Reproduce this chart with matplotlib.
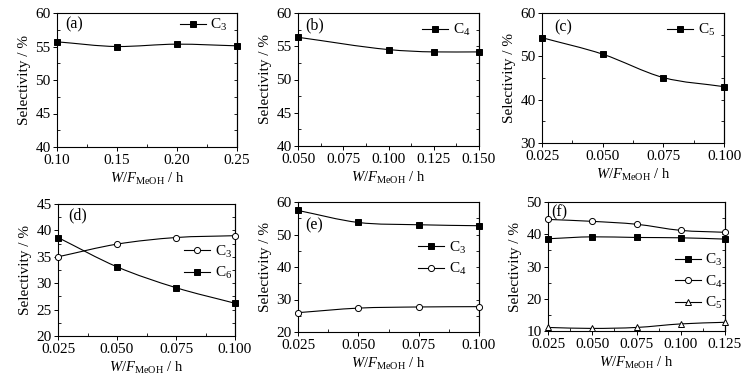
import numpy as np
import matplotlib
matplotlib.use("Agg")
import matplotlib.pyplot as plt
from matplotlib.path import Path
from matplotlib.patches import PathPatch
from matplotlib.lines import Line2D
from matplotlib.ticker import MultipleLocator

plt.rcParams['font.family'] = ['Liberation Serif', 'DejaVu Serif']
plt.rcParams['mathtext.fontset'] = 'custom'
plt.rcParams['mathtext.rm'] = 'Liberation Serif'
plt.rcParams['mathtext.it'] = 'Liberation Serif:italic'

# ---- data ----
x_a = [0.10, 0.15, 0.20, 0.25]
c3_a = [55.7, 55.0, 55.35, 55.1]

x_b = [0.050, 0.100, 0.125, 0.150]
c4_b = [56.35, 54.5, 54.15, 54.15]

x_c = [0.025, 0.050, 0.075, 0.100]
c5_c = [54.3, 50.5, 45.1, 43.0]

x_d = [0.025, 0.050, 0.075, 0.100]
c3_d = [35.0, 37.4, 38.65, 39.0]
c6_d = [38.65, 33.1, 29.15, 26.2]

x_e = [0.025, 0.050, 0.075, 0.100]
c3_e = [57.4, 53.7, 53.0, 52.7]
c4_e = [25.95, 27.35, 27.7, 27.8]

x_f = [0.025, 0.050, 0.075, 0.100, 0.125]
c3_f = [38.6, 39.2, 39.0, 38.9, 38.5]
c4_f = [44.6, 44.0, 43.1, 41.2, 40.6]
c5_f = [11.1, 10.8, 11.1, 12.2, 12.7]

W, H = 752, 381
fig = plt.figure(figsize=(W / 100, H / 100), dpi=100)


def px_axes(l, t, r, b):
    return fig.add_axes([l / W, 1 - b / H, (r - l) / W, (b - t) / H])


def smooth(ax, x, y):
    x = np.asarray(x, float)
    y = np.asarray(y, float)
    n = len(x)
    m = np.zeros(n)
    for i in range(n):
        if i == 0:
            m[i] = (y[1] - y[0]) / (x[1] - x[0])
        elif i == n - 1:
            m[i] = (y[-1] - y[-2]) / (x[-1] - x[-2])
        else:
            d1 = (y[i] - y[i - 1]) / (x[i] - x[i - 1])
            d2 = (y[i + 1] - y[i]) / (x[i + 1] - x[i])
            m[i] = 0.5 * (d1 + d2) if d1 * d2 > 0 else 0.25 * (d1 + d2)
    verts = [(x[0], y[0])]
    codes = [Path.MOVETO]
    for i in range(n - 1):
        h = x[i + 1] - x[i]
        verts += [(x[i] + h / 3, y[i] + m[i] * h / 3),
                  (x[i + 1] - h / 3, y[i + 1] - m[i + 1] * h / 3),
                  (x[i + 1], y[i + 1])]
        codes += [Path.CURVE4] * 3
    ax.add_patch(PathPatch(Path(verts, codes), fill=False, lw=0.8,
                           ec='black', clip_on=False))


def series(ax, x, y, marker, face):
    smooth(ax, x, y)
    ax.plot(x, y, ls='none', marker=marker, ms=4.6 if marker == 's' else 4.4,
            mfc=face, mec='black', mew=0.7, clip_on=False, zorder=5)


def handle(marker, face):
    return Line2D([], [], color='black', lw=0.8, marker=marker,
                  ms=4.6 if marker == 's' else 4.4, mfc=face, mec='black', mew=0.7)


def style(ax, xlim, ylim, xmaj, ymaj, xfmt):
    ax.set_xlim(*xlim)
    ax.set_ylim(*ylim)
    ax.xaxis.set_major_locator(MultipleLocator(xmaj))
    ax.xaxis.set_minor_locator(MultipleLocator(xmaj / 2))
    ax.yaxis.set_major_locator(MultipleLocator(ymaj))
    ax.yaxis.set_minor_locator(MultipleLocator(ymaj / 2))
    ax.xaxis.set_major_formatter(matplotlib.ticker.FormatStrFormatter(xfmt))
    ax.tick_params(which='major', direction='out', length=3, width=0.7,
                   labelsize=11)
    ax.tick_params(axis='x', which='major', pad=2)
    ax.tick_params(axis='y', which='major', pad=1.5)
    ax.tick_params(which='minor', direction='in', length=2, width=0.6)
    for s in ax.spines.values():
        s.set_linewidth(0.8)
    sec = ax.secondary_yaxis('right')
    sec.yaxis.set_major_locator(MultipleLocator(ymaj))
    sec.yaxis.set_minor_locator(MultipleLocator(ymaj / 2))
    sec.tick_params(which='both', direction='in', length=2, width=0.6,
                    labelright=False)
    sec.spines['right'].set_linewidth(0.8)
    ax.set_ylabel('Selectivity / %', fontsize=11, labelpad=3)
    ax.set_xlabel(r'$\it{W}$/$\it{F}$$_{\rm MeOH}$ / h', fontsize=10.5, labelpad=3)


def legend(ax, handles, labels, x, y):
    ax.legend(handles, labels, loc='upper left', bbox_to_anchor=(x, y),
              frameon=False, fontsize=11, handlelength=1.7, handletextpad=0.3,
              borderpad=0, borderaxespad=0, labelspacing=0.35)


def panel_label(ax, s, x, y):
    ax.text(x, y, s, transform=ax.transAxes, fontsize=11.5, ha='left', va='center')


# (a)
ax = px_axes(57, 13, 237, 147)
series(ax, x_a, c3_a, 's', 'black')
style(ax, (0.10, 0.25), (40, 60), 0.05, 5, '%.2f')
legend(ax, [handle('s', 'black')], ['C$_3$'], 0.683, 0.97)
panel_label(ax, '(a)', 0.045, 0.915)

# (b)
ax = px_axes(298, 13, 479, 146)
series(ax, x_b, c4_b, 's', 'black')
style(ax, (0.05, 0.15), (40, 60), 0.025, 5, '%.3f')
legend(ax, [handle('s', 'black')], ['C$_4$'], 0.685, 0.93)
panel_label(ax, '(b)', 0.04, 0.91)

# (c)
ax = px_axes(542, 13, 724, 143)
series(ax, x_c, c5_c, 's', 'black')
style(ax, (0.025, 0.10), (30, 60), 0.025, 10, '%.3f')
legend(ax, [handle('s', 'black')], ['C$_5$'], 0.687, 0.93)
panel_label(ax, '(c)', 0.066, 0.89)

# (d)
ax = px_axes(58, 204, 235, 336)
series(ax, x_d, c3_d, 'o', 'white')
series(ax, x_d, c6_d, 's', 'black')
style(ax, (0.025, 0.10), (20, 45), 0.025, 5, '%.3f')
legend(ax, [handle('o', 'white'), handle('s', 'black')], ['C$_3$', 'C$_6$'],
       0.712, 0.70)
panel_label(ax, '(d)', 0.056, 0.917)

# (e)
ax = px_axes(298, 202, 479, 332)
series(ax, x_e, c3_e, 's', 'black')
series(ax, x_e, c4_e, 'o', 'white')
style(ax, (0.025, 0.10), (20, 60), 0.025, 10, '%.3f')
legend(ax, [handle('s', 'black'), handle('o', 'white')], ['C$_3$', 'C$_4$'],
       0.663, 0.71)
panel_label(ax, '(e)', 0.04, 0.82)

# (f)
ax = px_axes(548, 202, 725, 331)
series(ax, x_f, c3_f, 's', 'black')
series(ax, x_f, c4_f, 'o', 'white')
series(ax, x_f, c5_f, '^', 'white')
style(ax, (0.025, 0.125), (10, 50), 0.025, 10, '%.3f')
legend(ax, [handle('s', 'black'), handle('o', 'white'), handle('^', 'white')],
       ['C$_3$', 'C$_4$', 'C$_5$'], 0.717, 0.61)
panel_label(ax, '(f)', 0.02, 0.92)

fig.savefig('out.png', dpi=100)
